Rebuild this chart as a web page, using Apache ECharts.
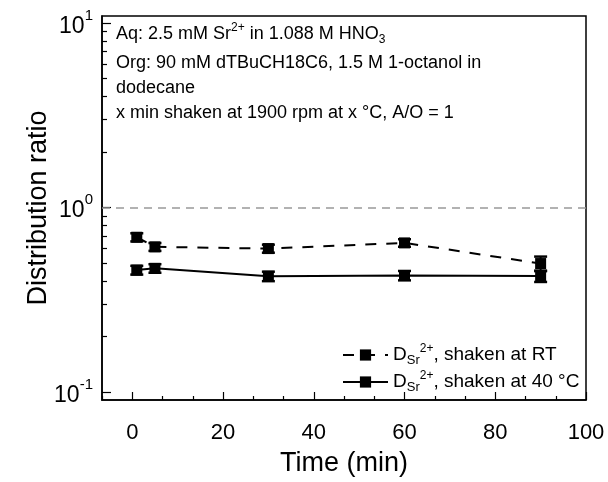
<!DOCTYPE html>
<html>
<head>
<meta charset="utf-8">
<script src="https://cdn.jsdelivr.net/npm/echarts@6/dist/echarts.min.js"></script>
<style>
    html, body { margin: 0; padding: 0; background: #fff; }
    #chart { width: 608px; height: 482px; }
</style>
</head>
<body>
<div id="chart"></div>
<script>
// data
var times = [1, 5, 30, 60, 90];
var dRT = [0.69, 0.612, 0.599, 0.643, 0.497];
var errRT = [0.035, 0.03, 0.03, 0.03, 0.045];
var d40 = [0.458, 0.468, 0.424, 0.428, 0.425];
var err40 = [0.025, 0.025, 0.025, 0.025, 0.03];

// ticks
var xMajor = [0, 20, 40, 60, 80, 100];
var xMinor = [-20 / 3, 20 / 3, 40 / 3, 80 / 3, 100 / 3, 140 / 3, 160 / 3, 200 / 3, 220 / 3, 260 / 3, 280 / 3];
var yMajor = [0.1, 1, 10];
var yMinor = [0.2, 0.3, 0.4, 0.5, 0.6, 0.7, 0.8, 0.9, 2, 3, 4, 5, 6, 7, 8, 9];

var FONT = '"Liberation Sans", Arial, sans-serif';

window.onload = function () {
    var myChart = echarts.init(document.getElementById('chart'));

    function pairs(xs, ys) {
        var out = [];
        for (var i = 0; i < xs.length; i++) {
            out.push([xs[i], ys[i]]);
        }
        return out;
    }

    function errData(xs, ys, es) {
        var out = [];
        for (var i = 0; i < xs.length; i++) {
            out.push([xs[i], ys[i] - es[i], ys[i] + es[i]]);
        }
        return out;
    }

    // 误差棒
    function renderErr(params, api) {
        var x = api.value(0);
        var top = api.coord([x, api.value(2)]);
        var bot = api.coord([x, api.value(1)]);
        var w = 6.5;
        var cap = { stroke: '#000', lineWidth: 2.5 };
        return {
            type: 'group',
            children: [
                { type: 'line', shape: { x1: top[0], y1: top[1], x2: bot[0], y2: bot[1] }, style: { stroke: '#000', lineWidth: 2 } },
                { type: 'line', shape: { x1: top[0] - w, y1: top[1], x2: top[0] + w, y2: top[1] }, style: cap },
                { type: 'line', shape: { x1: bot[0] - w, y1: bot[1], x2: bot[0] + w, y2: bot[1] }, style: cap }
            ]
        };
    }

    function richSet(size, lh) {
        var small = Math.round(size * 0.66);
        return {
            t: { fontSize: size, lineHeight: lh, fontFamily: FONT, color: '#000', verticalAlign: 'middle' },
            sub: { fontSize: small, lineHeight: small + 2, fontFamily: FONT, color: '#000', verticalAlign: 'bottom' },
            sup: { fontSize: small, lineHeight: small + 2, fontFamily: FONT, color: '#000', verticalAlign: 'top' },
            ssup: { fontSize: small - 1, lineHeight: lh - 5, fontFamily: FONT, color: '#000', verticalAlign: 'top' }
        };
    }

    var option = {
        animation: false,
        backgroundColor: '#fff',
        grid: {
            left: 102,
            right: 22,
            top: 16,
            bottom: 79,
            show: true,
            borderColor: '#000',
            borderWidth: 1.5,
            backgroundColor: 'transparent'
        },
        graphic: [
            {
                type: 'text', left: 116, top: 22,
                style: {
                    text: '{t|Aq: 2.5 mM Sr}{sup|2+}{t| in 1.088 M HNO}{sub|3}',
                    rich: richSet(18, 24)
                }
            },
            {
                type: 'text', left: 116, top: 54,
                style: { text: 'Org: 90 mM dTBuCH18C6, 1.5 M 1-octanol in', fontSize: 18, fontFamily: FONT, fill: '#000' }
            },
            {
                type: 'text', left: 116, top: 79,
                style: { text: 'dodecane', fontSize: 18, fontFamily: FONT, fill: '#000' }
            },
            {
                type: 'text', left: 116, top: 104,
                style: { text: 'x min shaken at 1900 rpm at x °C, A/O = 1', fontSize: 18, fontFamily: FONT, fill: '#000' }
            }
        ],
        legend: {
            orient: 'vertical',
            left: 337,
            top: 338,
            itemWidth: 45,
            itemHeight: 14,
            itemGap: 3,
            data: ['RT', '40'],
            formatter: function (name) {
                var tail = name === 'RT' ? ', shaken at RT' : ', shaken at 40 °C';
                return '{t|D}{sub|Sr}{ssup|2+}{t|' + tail + '}';
            },
            textStyle: { rich: richSet(19, 24) }
        },
        xAxis: [
            {
                type: 'value',
                min: -20 / 3,
                max: 100,
                name: 'Time (min)',
                nameLocation: 'middle',
                nameGap: 50,
                nameMoveOverlap: false,
                nameTextStyle: { fontSize: 27, fontFamily: FONT, color: '#000' },
                axisLine: { onZero: false, lineStyle: { color: '#000', width: 1.5 } },
                axisTick: { inside: true, length: 8, customValues: xMajor, lineStyle: { color: '#000', width: 1.2 } },
                axisLabel: { customValues: xMajor, fontSize: 22, fontFamily: FONT, color: '#000', margin: 22 },
                splitLine: { show: false }
            },
            {
                type: 'value',
                min: -20 / 3,
                max: 100,
                position: 'bottom',
                axisLine: { show: false, onZero: false },
                axisTick: { inside: true, length: 4, customValues: xMinor, lineStyle: { color: '#000', width: 1.2 } },
                axisLabel: { show: false },
                splitLine: { show: false }
            }
        ],
        yAxis: [
            {
                type: 'log',
                min: 0.0906,
                max: 10.9,
                name: 'Distribution ratio',
                nameLocation: 'middle',
                nameGap: 50,
                nameMoveOverlap: false,
                nameTextStyle: { fontSize: 27, fontFamily: FONT, color: '#000' },
                axisLine: { onZero: false, lineStyle: { color: '#000', width: 1.5 } },
                axisTick: { inside: true, length: 9, customValues: yMajor, lineStyle: { color: '#000', width: 1.2 } },
                axisLabel: {
                    customValues: yMajor,
                    margin: 9,
                    formatter: function (v) {
                        var e = Math.round(Math.log(v) / Math.LN10);
                        return '{b|10}{s|' + e + '}';
                    },
                    rich: {
                        b: { fontSize: 23, lineHeight: 30, fontFamily: FONT, color: '#000', verticalAlign: 'bottom' },
                        s: { fontSize: 15, lineHeight: 30, fontFamily: FONT, color: '#000', verticalAlign: 'top' }
                    }
                },
                splitLine: { show: false }
            },
            {
                type: 'log',
                min: 0.0906,
                max: 10.9,
                position: 'left',
                axisLine: { show: false, onZero: false },
                axisTick: { inside: true, length: 5, customValues: yMinor, lineStyle: { color: '#000', width: 1.2 } },
                axisLabel: { show: false },
                splitLine: { show: false }
            }
        ],
        series: [
            {
                name: 'RT',
                type: 'line',
                data: pairs(times, dRT),
                symbol: 'rect',
                symbolSize: 11,
                itemStyle: { color: '#000' },
                lineStyle: { color: '#000', width: 2, type: [11, 10] },
                z: 3,
                markLine: {
                    silent: true,
                    symbol: 'none',
                    label: { show: false },
                    lineStyle: { color: '#999', width: 1.5, type: [8, 6] },
                    data: [{ yAxis: 1 }]
                }
            },
            {
                name: '40',
                type: 'line',
                data: pairs(times, d40),
                symbol: 'rect',
                symbolSize: 11,
                itemStyle: { color: '#000' },
                lineStyle: { color: '#000', width: 2, type: 'solid' },
                z: 3
            },
            {
                type: 'custom',
                renderItem: renderErr,
                data: errData(times, dRT, errRT),
                encode: { x: 0, y: [1, 2] },
                z: 4
            },
            {
                type: 'custom',
                renderItem: renderErr,
                data: errData(times, d40, err40),
                encode: { x: 0, y: [1, 2] },
                z: 4
            }
        ]
    };

    myChart.setOption(option);
};
</script>
</body>
</html>
